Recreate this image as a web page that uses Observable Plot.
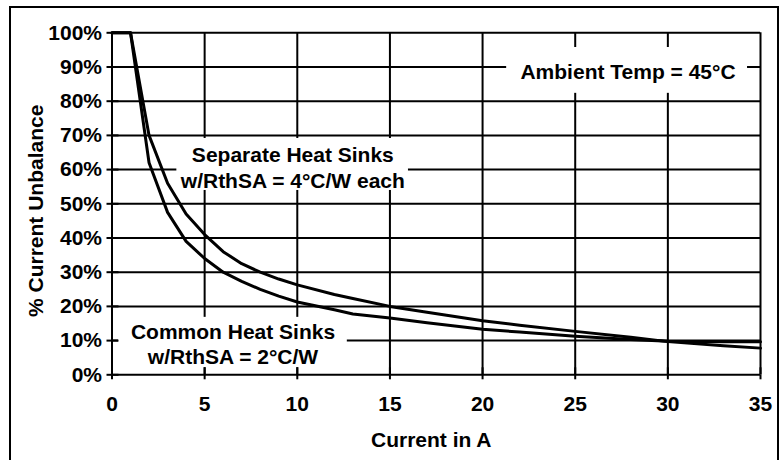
<!DOCTYPE html>
<html>
<head>
<meta charset="utf-8">
<script src="https://cdn.jsdelivr.net/npm/d3@7"></script>
<script src="https://cdn.jsdelivr.net/npm/@observablehq/plot@0.6"></script>
<style>
  body { margin: 0; background: #fff; }
  #wrap { position: relative; width: 780px; height: 460px; overflow: hidden; background: #fff; }
  #wrap svg { position: absolute; left: 0; top: 0; }
  #border { position: absolute; left: 9px; top: 6px; width: 766px; height: 480px; border: 2px solid #000; pointer-events: none; z-index: 2; }
</style>
</head>
<body>
<div id="wrap"><div id="border"></div></div>
<script>
// Current in A (x values shared by both curves)
const currentA = [0, 1, 2, 3, 4, 5, 6, 7, 8, 9, 10, 12, 13, 15, 17, 20, 22, 25, 28, 30, 33, 35];
// % Current Unbalance — Separate Heat Sinks w/RthSA = 4°C/W each
const separatePct = [100, 100, 70, 56, 47, 41, 36, 32.5, 30, 28, 26.3, 23.5, 22.3, 20, 18.3, 15.8, 14.5, 12.7, 11, 9.7, 8.5, 7.8];
// % Current Unbalance — Common Heat Sinks w/RthSA = 2°C/W
const commonPct = [100, 100, 62, 47.5, 39, 34, 30, 27.3, 25, 23, 21.3, 19, 17.8, 16.6, 15.2, 13.3, 12.5, 11.3, 10.3, 9.8, 9.7, 9.7];
// axis ticks
const xTicks = [0, 5, 10, 15, 20, 25, 30, 35];
const yTicks = [0, 10, 20, 30, 40, 50, 60, 70, 80, 90, 100];
// annotation texts
const labelTexts = ["Ambient Temp = 45°C", "Separate Heat Sinks\nw/RthSA = 4°C/W each", "Common Heat Sinks\nw/RthSA = 2°C/W"];
const xTitle = "Current in A";
const yTitle = "% Current Unbalance";

// placement of annotation boxes (data coordinates)
const labelPlacement = [
  {x: 27.85, y: 88.8, x1: 21.3, x2: 34.3, y1: 82.3, y2: 95.7},
  {x: 9.76, y: 60.8, x1: 3.5, x2: 16.0, y1: 53.9, y2: 69.1},
  {x: 6.53, y: 9.2, x1: 0.35, x2: 12.7, y1: 2.1, y2: 16.8}
];
const labels = labelTexts.map((t, i) => ({text: t, ...labelPlacement[i]}));

const rows = currentA.flatMap((c, i) => [
  {c, v: separatePct[i], s: "Separate"},
  {c, v: commonPct[i], s: "Common"}
]);

const plot = Plot.plot({
  width: 780,
  height: 460,
  marginLeft: 111.5,
  marginRight: 20,
  marginTop: 32.3,
  marginBottom: 85.7,
  style: {
    fontFamily: "'Liberation Sans', Arial, sans-serif",
    fontSize: "21px",
    fontWeight: "bold",
    background: "transparent",
    color: "#000",
    overflow: "visible"
  },
  x: {domain: [0, 35]},
  y: {domain: [0, 100]},
  marks: [
    Plot.ruleY(yTicks, {stroke: "#000", strokeWidth: 2}),
    Plot.ruleX(xTicks, {stroke: "#000", strokeWidth: 2}),
    Plot.rect(labels, {x1: "x1", x2: "x2", y1: "y1", y2: "y2", fill: "#fff"}),
    Plot.axisX(xTicks, {tickSize: -7, tickFormat: () => "", label: null, strokeWidth: 2, strokeOpacity: 1}),
    Plot.axisY(yTicks, {tickSize: -7, tickFormat: () => "", label: null, strokeWidth: 2, strokeOpacity: 1}),
    Plot.axisX(xTicks, {tickSize: 5, tickPadding: 16, label: null, strokeWidth: 2, strokeOpacity: 1, fontSize: 21}),
    Plot.axisY(yTicks, {tickSize: 5, tickPadding: 5, tickFormat: d => d + "%", label: null, strokeWidth: 2, strokeOpacity: 1, fontSize: 21}),
    Plot.line(rows, {x: "c", y: "v", z: "s", stroke: "#000", strokeWidth: 3, strokeLinejoin: "round"}),
    Plot.text(labels, {x: "x", y: "y", text: "text", lineHeight: 1.22, fill: "#000", fontSize: 21}),
    Plot.text([yTitle], {frameAnchor: "left", textAnchor: "middle", lineAnchor: "middle", rotate: -90, dx: -76, dy: 7, fill: "#000", fontSize: 21}),
    Plot.text([xTitle], {frameAnchor: "bottom", textAnchor: "middle", lineAnchor: "middle", dx: -5, dy: 65.5, fill: "#000", fontSize: 21})
  ]
});
document.getElementById("wrap").appendChild(plot);
</script>
</body>
</html>
